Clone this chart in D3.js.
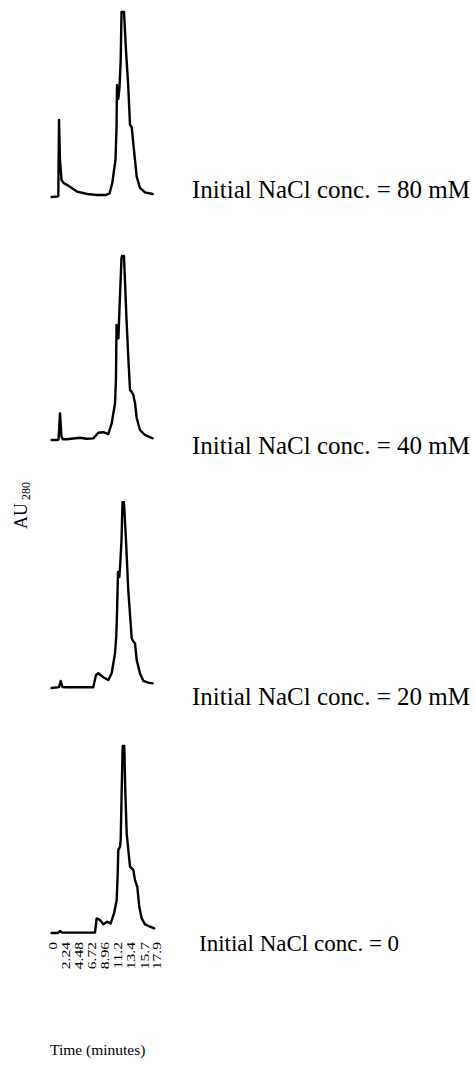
<!DOCTYPE html>
<html>
<head>
<meta charset="utf-8">
<script src="https://cdn.jsdelivr.net/npm/d3@7/dist/d3.min.js"></script>
<style>
  html, body { margin: 0; padding: 0; background: #fff; }
  svg { display: block; }
  text { font-family: "Liberation Serif", "Times New Roman", serif; fill: #000; }
</style>
</head>
<body>
<svg id="chart" width="475" height="1067"></svg>
<script>
// ---- Data (time in minutes, absorbance in relative AU) ----
const panelLabels = ["Initial NaCl conc. = 80 mM", "Initial NaCl conc. = 40 mM",
                     "Initial NaCl conc. = 20 mM", "Initial NaCl conc. = 0"];

const time80 = [0, 1.02, 1.16, 1.28, 1.45, 1.71, 2.05, 2.68, 3.53, 4.39, 6.1, 7.8, 9.3, 9.9, 10.36, 10.92, 11.1, 11.18, 11.4, 11.6, 11.81, 11.95, 12.37, 12.71, 13.1, 13.4, 13.69, 13.96, 14.25, 14.54, 15.1, 15.96, 17.27];
const au80   = [0, 0.003, 0.005, 0.416, 0.2, 0.092, 0.076, 0.065, 0.047, 0.029, 0.016, 0.011, 0.011, 0.019, 0.074, 0.2, 0.38, 0.605, 0.53, 0.59, 0.74, 1.0, 1.0, 0.795, 0.597, 0.39, 0.378, 0.29, 0.2, 0.11, 0.049, 0.025, 0.016];

const time40 = [0, 1.02, 1.2, 1.45, 1.7, 1.91, 2.59, 4.86, 6.0, 7.13, 7.99, 8.84, 9.69, 10.27, 10.84, 11.0, 11.1, 11.42, 11.66, 11.95, 12.03, 12.37, 12.83, 13.1, 13.4, 13.69, 13.96, 14.25, 14.54, 15.1, 15.96, 17.27];
const au40   = [0, 0.0, 0.003, 0.144, 0.02, 0.004, 0.004, 0.012, 0.007, 0.009, 0.039, 0.042, 0.032, 0.09, 0.198, 0.324, 0.622, 0.55, 0.757, 0.984, 0.995, 0.995, 0.632, 0.45, 0.27, 0.26, 0.243, 0.2, 0.119, 0.054, 0.027, 0.009];

const time20 = [0, 1.28, 1.57, 1.88, 2.47, 7.13, 7.59, 7.99, 8.84, 9.69, 10.27, 10.84, 11.05, 11.15, 11.35, 11.58, 11.72, 11.95, 12.12, 12.37, 12.71, 13.1, 13.69, 13.91, 14.25, 14.54, 15.1, 15.67, 16.52, 17.27];
const au20   = [0, 0.005, 0.038, 0.005, 0.004, 0.004, 0.07, 0.08, 0.058, 0.043, 0.08, 0.188, 0.277, 0.368, 0.627, 0.6, 0.665, 0.8, 1.005, 1.005, 0.8, 0.53, 0.268, 0.254, 0.242, 0.151, 0.079, 0.039, 0.029, 0.025];

const time0 = [0, 1.11, 1.45, 1.79, 7.42, 7.71, 8.28, 8.84, 9.52, 10.1, 10.67, 11.13, 11.3, 11.4, 11.69, 11.81, 11.98, 12.15, 12.42, 12.59, 12.83, 13.4, 13.96, 14.25, 14.64, 14.98, 15.39, 15.96, 16.81, 17.54];
const au0   = [0, 0, 0.011, 0.003, 0.002, 0.079, 0.07, 0.047, 0.061, 0.052, 0.106, 0.178, 0.323, 0.449, 0.466, 0.503, 0.773, 1.011, 1.011, 0.773, 0.539, 0.359, 0.341, 0.286, 0.25, 0.142, 0.079, 0.047, 0.034, 0.025];

const tickValues = [0, 2.24, 4.48, 6.72, 8.96, 11.2, 13.4, 15.7, 17.9];
const tickLabels = ["0", "2.24", "4.48", "6.72", "8.96", "11.2", "13.4", "15.7", "17.9"];

// ---- Layout ----
const svg = d3.select("#chart");
const x = d3.scaleLinear().domain([0, 17.92]).range([51.5, 156.5]);
const y = d3.scaleLinear().domain([0, 1]).range([0, -185]);

const panels = [
  { t: time80, v: au80, base: 197, label: panelLabels[0], lx: 192, ly: 198, fs: 25 },
  { t: time40, v: au40, base: 440, label: panelLabels[1], lx: 192, ly: 454, fs: 25 },
  { t: time20, v: au20, base: 688, label: panelLabels[2], lx: 192, ly: 705, fs: 25 },
  { t: time0,  v: au0,  base: 933, label: panelLabels[3], lx: 199, ly: 951, fs: 23 }
];

const line = d3.line()
  .x(d => x(d[0]))
  .y(d => y(d[1]))
  .curve(d3.curveLinear);

panels.forEach(p => {
  const g = svg.append("g").attr("transform", `translate(0,${p.base})`);
  g.append("path")
    .datum(p.t.map((t, i) => [t, p.v[i]]))
    .attr("d", line)
    .attr("fill", "none")
    .attr("stroke", "#000")
    .attr("stroke-width", 2.4)
    .attr("stroke-linejoin", "round")
    .attr("stroke-linecap", "round");
  svg.append("text")
    .attr("x", p.lx).attr("y", p.ly)
    .style("font-size", p.fs + "px")
    .text(p.label);
});

// ---- X axis (labels only, rotated) ----
const axis = d3.axisBottom(x)
  .tickValues(tickValues)
  .tickFormat((d, i) => tickLabels[i])
  .tickSize(0);
const ax = svg.append("g").attr("transform", "translate(0,942)").call(axis);
ax.select(".domain").remove();
ax.selectAll("text")
  .attr("x", 0).attr("y", 0).attr("dy", "0.35em")
  .attr("transform", "rotate(-90) scale(1.2,1)")
  .style("text-anchor", "end")
  .style("font-family", '"Liberation Serif", "Times New Roman", serif')
  .style("font-size", "13px")
  .attr("fill", "#000");

// ---- Axis titles ----
const yl = svg.append("text")
  .attr("transform", "translate(27,529) rotate(-90)")
  .style("font-size", "18px");
yl.append("tspan").text("AU");
yl.append("tspan").attr("dy", 3).style("font-size", "12px").text(" 280");

svg.append("text")
  .attr("x", 50).attr("y", 1055)
  .style("font-size", "15.5px")
  .text("Time (minutes)");
</script>
</body>
</html>
